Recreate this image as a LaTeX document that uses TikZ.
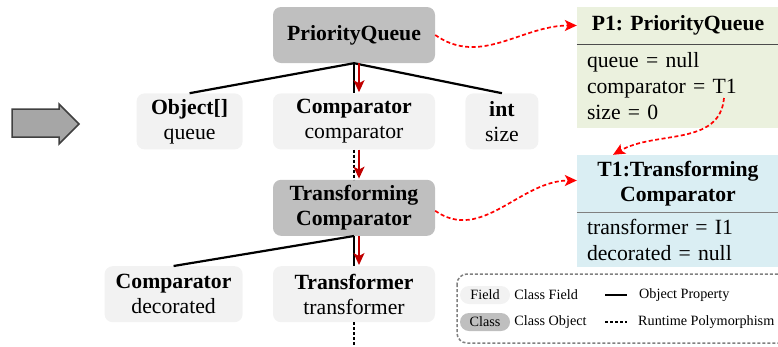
\documentclass[tikz,border=0pt]{standalone}
\usepackage{fontspec}
\setmainfont{Liberation Serif}
\usepackage{tikz}
\usetikzlibrary{arrows.meta,positioning}
\definecolor{ClassGray}{gray}{0.75}
\definecolor{FieldGray}{gray}{0.95}
\definecolor{ArrowGray}{gray}{0.65}
\definecolor{EdgeDark}{gray}{0.25}
\definecolor{LegendGray}{gray}{0.5}
\definecolor{ObjGreen}{RGB}{235,241,222}
\definecolor{ObjBlue}{RGB}{218,238,243}
\definecolor{FlowRed}{RGB}{192,0,0}
\definecolor{RefRed}{RGB}{255,0,0}

\begin{document}
\begin{tikzpicture}[x=1pt,y=1pt,
  every node/.style={font=\fontsize{21.7}{25}\selectfont},
  classbox/.style={fill=ClassGray,rounded corners=8pt,minimum width=162pt,minimum height=56pt,align=center,inner sep=2pt,font=\fontsize{21.7}{25}\selectfont\bfseries},
  fieldbox/.style={fill=FieldGray,rounded corners=8pt,minimum height=56pt,align=center,inner sep=2pt},
  objtitle/.style={minimum width=202pt,inner sep=0pt,align=center,font=\fontsize{21.7}{25.5}\selectfont\bfseries},
  objfields/.style={text width=182pt,inner xsep=10pt,inner ysep=0pt,align=left,font=\fontsize{21.7}{26}\selectfont},
  prop/.style={line width=2.2pt,draw=black},
  poly/.style={prop,dash pattern=on 3pt off 2pt},
  flow/.style={-{Stealth[length=12pt,width=11pt,inset=3pt]},line width=1.4pt,draw=FlowRed,shorten >=1pt},
  ref/.style={-{Stealth[length=12pt,width=11pt,inset=3pt]},line width=1.7pt,draw=RefRed,dash pattern=on 4pt off 2.5pt},
  pill/.style={rounded corners=9pt,minimum width=50pt,minimum height=18pt,inner sep=0pt,font=\fontsize{14.2}{17}\selectfont},
  legtext/.style={anchor=west,inner sep=0pt,font=\fontsize{14.2}{17}\selectfont},
  legend/.style={draw=LegendGray,line width=1.5pt,dash pattern=on 3pt off 2pt,rounded corners=10pt},
  node distance=30pt and 30pt]
  \useasboundingbox (0,0) rectangle (778,-346);
  \clip (0,0) rectangle (778,-346);
  % block arrow
  \draw[draw=EdgeDark,fill=ArrowGray,line width=1.5pt] (12,-109) -- (59,-109) -- (59,-104) -- (79,-124) -- (59,-144) -- (59,-137) -- (12,-137) -- cycle;
  % class tree
  \node[classbox] (pq) at (354,-35) {PriorityQueue};
  \node[fieldbox,minimum width=162pt,below=of pq] (cmp) {\textbf{Comparator}\\comparator};
  \node[fieldbox,minimum width=106pt,left=of cmp] (obj) {\textbf{Object[]}\\queue};
  \node[fieldbox,minimum width=73pt,right=of cmp] (intf) {\textbf{int}\\size};
  \node[classbox,below=of cmp] (tc) {Transforming\\Comparator};
  \node[fieldbox,minimum width=162pt,below=of tc] (trf) {\textbf{Transformer}\\transformer};
  \node[fieldbox,minimum width=138pt,left=of trf] (dec) {\textbf{Comparator}\\decorated};
  \coordinate[below=26pt of trf] (tail);
  \draw[prop] (pq.south) -- (obj.north);
  \draw[prop] (pq.south) -- (intf.north);
  \draw[prop] (pq.south) -- (cmp.north);
  \draw[flow] ([xshift=5pt]pq.south) -- ([xshift=5pt]cmp.north);
  \draw[poly] (cmp.south) -- (tc.north);
  \draw[flow] ([xshift=5pt]cmp.south) -- ([xshift=5pt]tc.north);
  \draw[prop] (tc.south) -- (dec.north);
  \draw[prop] (tc.south) -- (trf.north);
  \draw[flow] ([xshift=5pt]tc.south) -- ([xshift=5pt]trf.north);
  \draw[poly] (trf.south) -- (tail);
  % runtime objects
  \node[objtitle,fill=ObjGreen,minimum height=37pt] (p1t) at (678,-25.5) {P1: PriorityQueue};
  \node[objfields,fill=ObjGreen,minimum height=84pt,below=0pt of p1t] (p1f) {queue = null\\comparator = T1\\size = 0};
  \draw[line width=0.8pt,draw=black!70] (p1t.south west) -- (p1t.south east);
  \node[objtitle,fill=ObjBlue,minimum height=57pt] (t1t) at (678,-183.5) {T1:Transforming\\Comparator};
  \node[objfields,fill=ObjBlue,minimum height=55pt,below=0pt of t1t] (t1f) {transformer = I1\\decorated = null};
  \draw[line width=0.8pt,draw=black!50] (t1t.south west) -- (t1t.south east);
  \coordinate (t1ref) at (724,-98);
  \draw[ref] (pq.east) to[out=-35,in=180] (p1t.west);
  \draw[ref] (t1ref) to[out=-95,in=30] ([xshift=-65pt]t1t.north);
  \draw[ref] ([yshift=-3pt]tc.east) to[out=-35,in=180] ([yshift=3pt]t1t.west);
  % legend
  \draw[legend] (457,-274) rectangle (800,-343);
  \node[pill,fill=FieldGray] (lfield) at (485,-295) {Field};
  \node[legtext,right=4pt of lfield] (lfieldt) {Class Field};
  \node[pill,fill=ClassGray] (lclass) at (485,-322) {Class};
  \node[legtext,right=4pt of lclass] (lclasst) {Class Object};
  \node[legtext] (lprop) at (639,-295) {Object Property};
  \node[legtext] (lpoly) at (638,-322) {Runtime Polymorphism};
  \draw[prop] ([xshift=-34pt]lprop.west) -- ([xshift=-12pt]lprop.west);
  \draw[poly] ([xshift=-33pt]lpoly.west) -- ([xshift=-11pt]lpoly.west);
\end{tikzpicture}
\end{document}
